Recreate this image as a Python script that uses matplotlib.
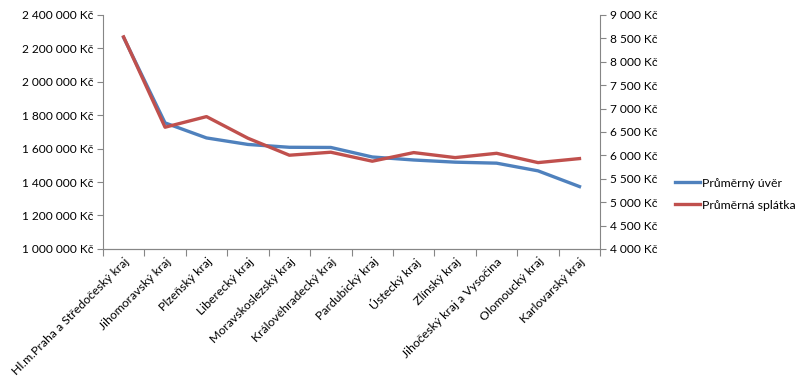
import matplotlib
matplotlib.use("Agg")
import matplotlib.pyplot as plt
from matplotlib.ticker import FuncFormatter, FixedLocator
import numpy as np

plt.rcParams['font.family'] = ['Lato', 'DejaVu Sans']

# data
kraje = ["Hl.m.Praha a Středočeský kraj", "Jihomoravský kraj", "Plzeňský kraj",
         "Liberecký kraj", "Moravskoslezský kraj", "Královéhradecký kraj",
         "Pardubický kraj", "Ústecký kraj", "Zlínský kraj",
         "Jihočeský kraj a Vysočina", "Olomoucký kraj", "Karlovarský kraj"]
prumerny_uver = [2265000, 1754000, 1664000, 1625000, 1608000, 1607000,
                 1550000, 1532000, 1519000, 1513000, 1467000, 1373000]
prumerna_splatka = [8530, 6600, 6827, 6365, 6002, 6066,
                    5874, 6058, 5951, 6043, 5844, 5930]

blue = "#4F81BD"
red = "#C0504D"
axis_col = "#868686"


def kc(v, pos):
    return "{:,.0f} Kč".format(v).replace(",", " ")


fig = plt.figure(figsize=(8.1, 3.92), dpi=100)
ax = fig.add_axes([0.127, 0.365, 0.614, 0.597])
ax2 = ax.twinx()

x = np.arange(len(kraje))
l1, = ax.plot(x, prumerny_uver, color=blue, lw=2.4, solid_joinstyle='round')
l2, = ax2.plot(x, prumerna_splatka, color=red, lw=2.4, solid_joinstyle='round')

ax.set_xlim(-0.5, len(kraje) - 0.5)
ax.set_ylim(1000000, 2400000)
ax.set_yticks(np.arange(1000000, 2400001, 200000))
ax.yaxis.set_major_formatter(FuncFormatter(kc))
ax2.set_ylim(4000, 9000)
ax2.set_yticks(np.arange(4000, 9001, 500))
ax2.yaxis.set_major_formatter(FuncFormatter(kc))

# category boundaries as ticks, labels at centres
ax.xaxis.set_major_locator(FixedLocator(np.arange(-0.5, len(kraje), 1.0)))
ax.xaxis.set_major_formatter(FuncFormatter(lambda v, p: ""))
ax.set_xticks(x, minor=True)
ax.set_xticklabels(kraje, minor=True, rotation=45, ha='right',
                   rotation_mode='anchor', fontsize=8.8)
ax.tick_params(axis='x', which='minor', length=0, pad=5)
ax.tick_params(axis='x', which='major', length=5, color=axis_col)

for a in (ax, ax2):
    a.spines['top'].set_visible(False)
    for s in ('left', 'right', 'bottom'):
        a.spines[s].set_color(axis_col)
    a.tick_params(axis='y', length=4, color=axis_col, labelsize=8.6, pad=3)
ax.spines['right'].set_visible(False)
ax2.spines['left'].set_visible(False)

fig.legend([l1, l2], ["Průměrný úvěr", "Průměrná splátka"],
           loc='center left', bbox_to_anchor=(0.82, 0.505), frameon=False,
           fontsize=8.8, handlelength=2.0, handletextpad=0.2, labelspacing=0.9)

fig.savefig("out.png", dpi=100)
